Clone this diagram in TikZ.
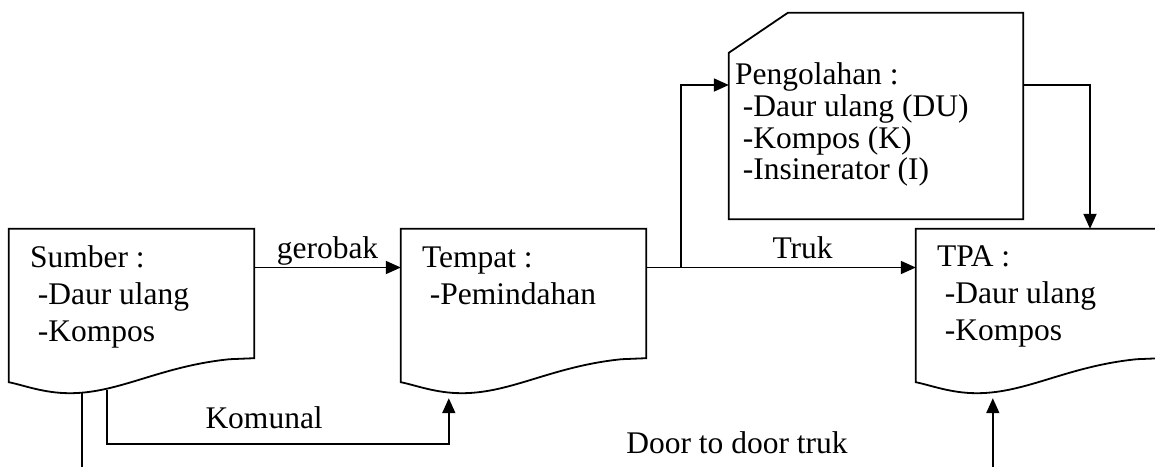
\documentclass[tikz,border=0pt]{standalone}
\usepackage{fontspec}
\setmainfont{Liberation Serif}
\usetikzlibrary{arrows.meta,calc}
\newcommand{\wavebox}[1]{%
  \draw[outl] (#1.north west) -- (#1.north east) -- ($(#1.south east)+(0,-24)$)
    -- ($(#1.south west)+(221,-23)$)
    .. controls ($(#1.south west)+(151,-16)$) and ($(#1.south west)+(111,11)$) .. ($(#1.south west)+(61,11)$)
    .. controls ($(#1.south west)+(35,11)$) and ($(#1.south west)+(15,3)$) .. (#1.south west) -- cycle;}
\tikzset{
  outl/.style={line width=1.8pt, line join=miter},
  arr/.style={line width=1.8pt, -{Triangle[length=15pt,width=13pt]}},
  plain/.style={line width=1.8pt},
  docbox/.style={draw=none, rectangle, inner sep=0pt, minimum width=245pt, minimum height=153pt},
  boxtxt/.style={inner sep=0pt, anchor=base west, font=\fontsize{31.5}{37}\selectfont},
  lbl/.style={inner sep=0pt, anchor=base, font=\fontsize{31.5}{37}\selectfont}
}
\begin{document}
\begin{tikzpicture}[x=1pt,y=-1pt]
\clip (0,0) rectangle (1155,466);
% boxes
\node[docbox] (S) at (131.5,305.5) {};
\node[docbox] (T) at (523.5,305.5) {};
\node[docbox] (TPA) at (1038.5,305.5) {};
\node[draw=none, rectangle, inner sep=0pt, minimum width=294pt, minimum height=206pt] (P) at (876,116) {};
\wavebox{S}
\wavebox{T}
\wavebox{TPA}
\draw[outl] (P.south west) -- ($(P.north west)+(0,40)$) -- ($(P.north west)+(59,0)$) -- (P.north east) -- (P.south east) -- cycle;
% texts
\node[boxtxt] (St) at ($(S.north west)+(21,39)$) {\begin{tabular}[t]{@{}l@{}}Sumber :\\\hspace*{0.25em}-Daur ulang\\\hspace*{0.25em}-Kompos\end{tabular}};
\node[boxtxt] (Tt) at ($(T.north west)+(21,39)$) {\begin{tabular}[t]{@{}l@{}}Tempat :\\\hspace*{0.25em}-Pemindahan\end{tabular}};
\node[boxtxt] (TPAt) at ($(TPA.north west)+(21,38)$) {\begin{tabular}[t]{@{}l@{}}TPA :\\\hspace*{0.25em}-Daur ulang\\\hspace*{0.25em}-Kompos\end{tabular}};
\node[boxtxt, font=\fontsize{31.5}{31.7}\selectfont] (Pt) at ($(P.north west)+(6,72)$) {\begin{tabular}[t]{@{}l@{}}Pengolahan :\\\hspace*{0.25em}-Daur ulang (DU)\\\hspace*{0.25em}-Kompos (K)\\\hspace*{0.25em}-Insinerator (I)\end{tabular}};
% connectors
\draw[arr] ([yshift=38pt]S.east) -- node[lbl, midway, yshift=9pt] {gerobak} ([yshift=38pt]T.west);
\draw[arr] ([yshift=38pt]T.east) -- node[lbl, pos=0.58, yshift=9pt] {Truk} ([yshift=38pt]TPA.west);
\coordinate (br) at ($(T.east)+(35,-38)$);
\draw[arr] (br) |- ([yshift=31pt]P.west);
\draw[arr] ([yshift=31pt]P.east) -| ([xshift=51.5pt]TPA.north);
\draw[arr] ($(S.south west)+(98,8)$) -- ++(0,54) -| node[lbl, pos=0.23, yshift=16pt] {Komunal} ($(T.south west)+(48,16)$);
\coordinate (sdown) at ($(S.south west)+(73,90)$);
\draw[plain] ($(S.south west)+(73,10)$) -- (sdown);
\coordinate (dd) at ($(TPA.south west)+(77,90)$);
\draw[arr] (dd) -- ($(TPA.south west)+(77,16)$);
\node[lbl] (door) at (737,453) {Door to door truk};
\end{tikzpicture}
\end{document}
